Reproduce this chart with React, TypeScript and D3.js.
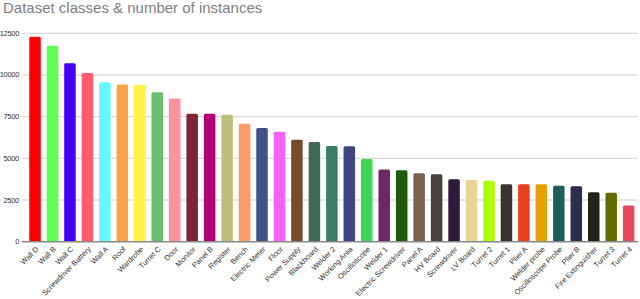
import React, { useRef, useEffect } from 'react';
import * as d3 from 'd3';

const classes = [
  'Wall D', 'Wall B', 'Wall C', 'Screwdriver Battery', 'Wall A', 'Roof', 'Wardrobe', 'Turret C',
  'Door', 'Monitor', 'Panel B', 'Register', 'Bench', 'Electric Meter', 'Floor', 'Power Supply',
  'Blackboard', 'Welder 2', 'Working Area', 'Oscilloscope', 'Welder 1', 'Electric Screwdriver',
  'Panel A', 'HV Board', 'Screwdriver', 'LV Board', 'Turret 2', 'Turret 1', 'Plier A',
  'Welder probe', 'Oscilloscope Probe', 'Plier B', 'Fire Extinguisher', 'Turret 3', 'Turret 4'
];

const instances = [
  12300, 11750, 10700, 10120, 9570, 9430, 9420, 8970,
  8590, 7675, 7670, 7615, 7075, 6820, 6600, 6120,
  5980, 5740, 5730, 4960, 4325, 4290,
  4106, 4050, 3750, 3708, 3650, 3450, 3445,
  3440, 3350, 3330, 2970, 2930, 2170
];

const barColors = [
  '#ff0000', '#5cff52', '#4400ff', '#ff5a6e', '#66f8ff', '#ffa04a', '#fff04a', '#6abf6e',
  '#ff909e', '#7d2635', '#b30078', '#bcc07c', '#ff9a66', '#415284', '#f562f5', '#754c2d',
  '#3d6a54', '#387d68', '#3f4482', '#40d655', '#6b2a67', '#1e5a0a',
  '#7a6050', '#4a4040', '#2b1a3a', '#e8d596', '#b0ff00', '#3c3230', '#e8401a',
  '#e8a000', '#1f5e5e', '#2b2d50', '#22241a', '#646e00', '#e84860'
];

const yTicks = [0, 2500, 5000, 7500, 10000, 12500];

const App = () => {
  const svgRef = useRef(null);
  useEffect(() => {
    const svg = d3.select(svgRef.current);
    svg.selectAll('*').remove();

    const x = d3.scaleBand()
      .domain(classes)
      .range([26.3, 637.4])
      .paddingInner(0.34)
      .paddingOuter(0.17);
    const y = d3.scaleLinear()
      .domain([0, 12500])
      .range([241.7, 33.3]);

    svg.append('text')
      .attr('x', 3)
      .attr('y', 13)
      .attr('fill', '#808080')
      .style('font-family', 'Liberation Sans, Arial, sans-serif')
      .style('font-size', '15px')
      .text('Dataset classes & number of instances');

    // gridlines
    svg.append('g')
      .selectAll('line')
      .data(yTicks.filter(d => d > 0))
      .join('line')
      .attr('x1', 22)
      .attr('x2', 638)
      .attr('y1', d => y(d))
      .attr('y2', d => y(d))
      .attr('stroke', '#d0d0d0')
      .attr('stroke-width', 1);

    svg.append('g')
      .selectAll('text')
      .data(yTicks)
      .join('text')
      .attr('x', 19)
      .attr('y', d => y(d) + 2.5)
      .attr('text-anchor', 'end')
      .attr('fill', '#333')
      .style('font-family', 'Liberation Sans, Arial, sans-serif')
      .style('font-size', '7.5px')
      .style('letter-spacing', '-0.3px')
      .text(d => d);

    svg.append('g')
      .selectAll('rect')
      .data(classes)
      .join('rect')
      .attr('x', d => x(d))
      .attr('width', x.bandwidth())
      .attr('y', (d, i) => y(instances[i]))
      .attr('height', (d, i) => y(0) - y(instances[i]))
      .attr('rx', 1.5)
      .attr('fill', (d, i) => barColors[i]);

    svg.append('line')
      .attr('x1', 22)
      .attr('x2', 638)
      .attr('y1', y(0))
      .attr('y2', y(0))
      .attr('stroke', '#8a8a8a')
      .attr('stroke-width', 1.5);

    svg.append('g')
      .selectAll('text')
      .data(classes)
      .join('text')
      .attr('text-anchor', 'end')
      .attr('transform', d => `translate(${x(d) + x.bandwidth() / 2 + 4},${y(0) + 8}) rotate(-45)`)
      .attr('fill', '#333')
      .style('font-family', 'Liberation Sans, Arial, sans-serif')
      .style('font-size', '7.5px')
      .text(d => d);
  }, []);
  return (
    <div style={{ position: 'fixed', left: 0, top: 0 }}>
      <svg ref={svgRef} width={640} height={299} style={{ display: 'block', background: '#fff' }}></svg>
    </div>
  );
};

export default App;
